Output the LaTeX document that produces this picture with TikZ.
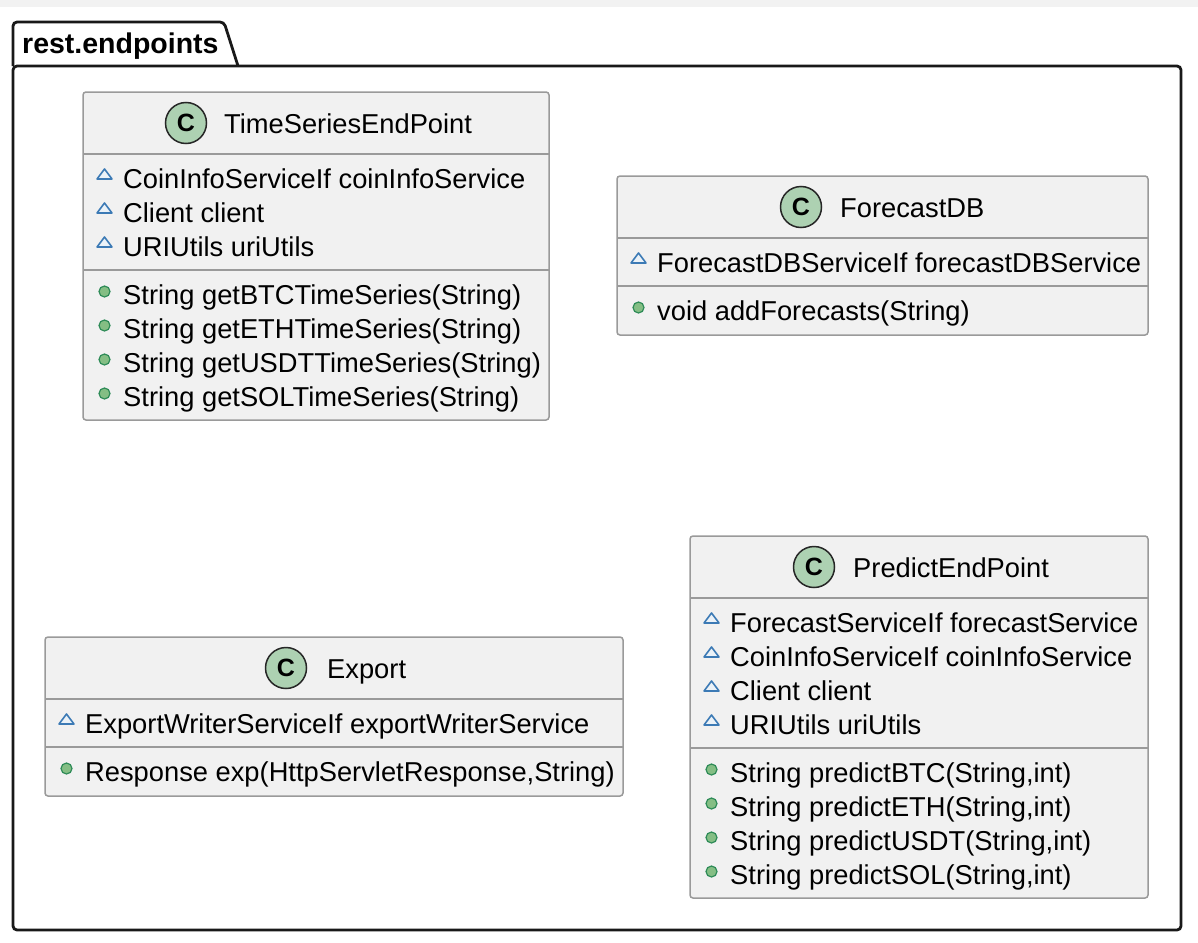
\documentclass[tikz,border=0pt]{standalone}
\usepackage{fontspec}
\setmainfont{Liberation Sans}
\usepackage{tikz}

\definecolor{classfill}{HTML}{F1F1F1}
\definecolor{classline}{HTML}{9A9A9A}
\definecolor{spotfill}{HTML}{ADD1B2}
\definecolor{fieldline}{HTML}{3C7AB5}
\definecolor{methodfill}{HTML}{84BE84}
\definecolor{methodline}{HTML}{2E8B57}

\begin{document}
\begin{tikzpicture}[x=1pt,y=-1pt,
  classbox/.style={draw=classline,fill=classfill,line width=1.5pt,rounded corners=3pt},
  divider/.style={draw=classline,line width=1.5pt},
  spot/.style={circle,draw=black!85,fill=spotfill,line width=1.5pt,minimum size=41pt,inner sep=0pt,font=\bfseries\fontsize{25}{25}\selectfont},
  classname/.style={anchor=base west,inner sep=0pt,font=\fontsize{27.3}{27.3}\selectfont},
  member/.style={anchor=base west,inner sep=0pt,font=\fontsize{27.3}{27.3}\selectfont},
  fieldmark/.style={draw=fieldline,fill=white!90!fieldline,line width=1.6pt,line join=round},
  methodmark/.style={draw=methodline,fill=methodfill,line width=1.2pt},
  pkgline/.style={draw=black!90,line width=2.8pt,rounded corners=4pt}]
\useasboundingbox (0,0) rectangle (1198,942);
\path[fill=white] (0,0) rectangle (1198,942);
\path[fill=black!5] (0,0) rectangle (1198,7);
% package rest.endpoints:
\path[pkgline] (13,66) rectangle (1181,930);
\path[pkgline] (13,66) -- (13,22) -- (224,22) -- (238,66);
\node[anchor=base west,inner sep=0pt,font=\bfseries\fontsize{28.5}{28.5}\selectfont] (pkgName) at (22,54) {rest.endpoints};
% class TimeSeriesEndPoint:
\path[classbox] (83,92) rectangle (549,420);
\path[divider] (83,154) -- (549,154);
\path[divider] (83,270) -- (549,270);
\node[spot] (tsSpot) at (186,123) {C};
\node[classname] (tsName) at (224,133) {TimeSeriesEndPoint};
\foreach \y in {188,222,256} \path[fieldmark] (97,\y-9) -- ++(15,0) -- ++(-7.5,-10) -- cycle;
\node[member] (tsField1) at (123,188) {CoinInfoServiceIf coinInfoService};
\node[member] (tsField2) at (123,222) {Client client};
\node[member] (tsField3) at (123,256) {URIUtils uriUtils};
\foreach \y in {304,338,372,406} \path[methodmark] (104.5,\y-12.5) circle (5.5);
\node[member] (tsMethod1) at (123,304) {String getBTCTimeSeries(String)};
\node[member] (tsMethod2) at (123,338) {String getETHTimeSeries(String)};
\node[member] (tsMethod3) at (123,372) {String getUSDTTimeSeries(String)};
\node[member] (tsMethod4) at (123,406) {String getSOLTimeSeries(String)};
% class ForecastDB:
\path[classbox] (617,176) rectangle (1148,335);
\path[divider] (617,238) -- (1148,238);
\path[divider] (617,286) -- (1148,286);
\node[spot] (fdbSpot) at (801,207) {C};
\node[classname] (fdbName) at (840,217) {ForecastDB};
\path[fieldmark] (631,263) -- ++(15,0) -- ++(-7.5,-10) -- cycle;
\node[member] (fdbField1) at (657,272) {ForecastDBServiceIf forecastDBService};
\path[methodmark] (638.5,307.5) circle (5.5);
\node[member] (fdbMethod1) at (657,320) {void addForecasts(String)};
% class Export:
\path[classbox] (45,637) rectangle (623,796);
\path[divider] (45,699) -- (623,699);
\path[divider] (45,747) -- (623,747);
\node[spot] (expSpot) at (286,668) {C};
\node[classname] (expName) at (327,678) {Export};
\path[fieldmark] (59,724) -- ++(15,0) -- ++(-7.5,-10) -- cycle;
\node[member] (expField1) at (85,733) {ExportWriterServiceIf exportWriterService};
\path[methodmark] (66.5,768.5) circle (5.5);
\node[member] (expMethod1) at (85,781) {Response exp(HttpServletResponse,String)};
% class PredictEndPoint:
\path[classbox] (690,536) rectangle (1148,898);
\path[divider] (690,598) -- (1148,598);
\path[divider] (690,748) -- (1148,748);
\node[spot] (prSpot) at (814,567) {C};
\node[classname] (prName) at (853,577) {PredictEndPoint};
\foreach \y in {632,666,700,734} \path[fieldmark] (704,\y-9) -- ++(15,0) -- ++(-7.5,-10) -- cycle;
\node[member] (prField1) at (730,632) {ForecastServiceIf forecastService};
\node[member] (prField2) at (730,666) {CoinInfoServiceIf coinInfoService};
\node[member] (prField3) at (730,700) {Client client};
\node[member] (prField4) at (730,734) {URIUtils uriUtils};
\foreach \y in {782,816,850,884} \path[methodmark] (711.5,\y-12.5) circle (5.5);
\node[member] (prMethod1) at (730,782) {String predictBTC(String,int)};
\node[member] (prMethod2) at (730,816) {String predictETH(String,int)};
\node[member] (prMethod3) at (730,850) {String predictUSDT(String,int)};
\node[member] (prMethod4) at (730,884) {String predictSOL(String,int)};
\end{tikzpicture}
\end{document}
